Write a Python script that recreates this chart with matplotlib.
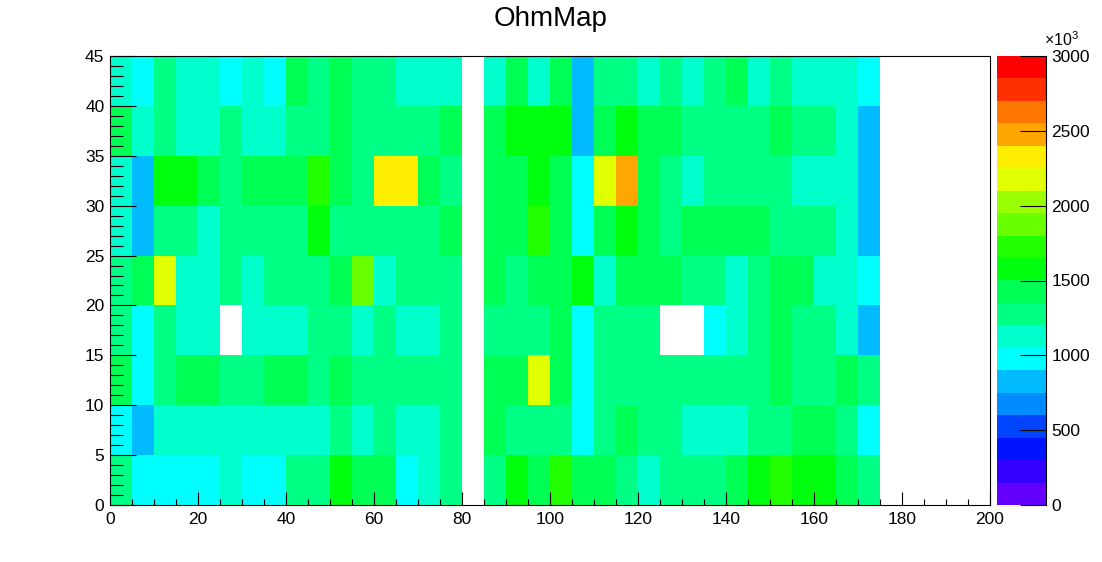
import colorsys
import numpy as np
import matplotlib
matplotlib.use('Agg')
import matplotlib.pyplot as plt
from matplotlib.colors import ListedColormap, BoundaryNorm

plt.rcParams['font.family'] = ['Liberation Sans', 'DejaVu Sans']
plt.rcParams['mathtext.default'] = 'regular'

# bin edges
x_edges = np.arange(0, 180, 5)   # 0..175, 35 bins
y_edges = np.arange(0, 50, 5)    # 0..45, 9 bins

# cell values in units of 10^3
C = 975
B = 825
A = 1125
S = 1275
G = 1425
P = 1575
L = 1725
Y1 = 1875
Y2 = 2175
Y3 = 2325
O = 2475
W = np.nan   # empty bin

row0 = [S, C, C, C, C, A, C, C, S, S, P, G, G, C, A, S, W, S, P, G, L, G, G, S, A, S, S, S, G, P, L, P, P, G, S]
row1 = [C, B, A, A, A, A, A, A, A, A, S, A, S, A, A, S, W, G, S, S, S, C, S, G, S, S, A, A, A, S, S, G, G, S, C]
row2 = [G, C, S, G, G, S, S, G, G, S, G, S, S, S, S, S, W, G, G, Y2, G, C, S, S, S, S, S, S, S, S, G, S, S, G, S]
row3 = [S, C, S, A, A, W, A, A, A, S, S, A, S, A, A, S, W, S, S, S, G, C, S, S, S, W, W, C, A, S, G, S, S, A, B]
row4 = [S, G, Y2, A, A, S, A, S, S, S, G, Y1, A, S, S, S, W, G, S, G, G, P, A, G, G, G, S, S, A, S, G, G, A, A, C]
row5 = [A, B, S, S, A, S, S, S, S, P, S, S, S, S, S, G, W, G, G, L, G, C, G, P, G, S, G, G, G, G, S, S, S, A, B]
row6 = [A, B, P, P, G, S, G, G, G, L, G, S, Y3, Y3, G, S, W, G, G, P, G, C, Y2, O, G, S, A, S, S, S, S, A, A, A, B]
row7 = [G, A, S, A, A, S, A, A, S, S, G, S, S, S, S, G, W, G, P, P, P, B, G, P, G, G, S, S, S, S, G, S, S, A, B]
row8 = [A, C, S, A, A, C, A, C, G, S, G, S, S, A, A, A, W, A, G, A, G, B, S, S, A, S, A, S, G, A, S, A, A, A, C]

z = np.array([row0, row1, row2, row3, row4, row5, row6, row7, row8], dtype=float)

# ROOT "pretty" palette, 50 colours, 20 contour levels
n_levels = 20
z_min, z_max = 0, 3000
pretty = []
for i in range(50):
    hue = 280 - (i + 1) * 280 / 50
    pretty.append(colorsys.hls_to_rgb(hue / 360.0, 0.5, 1.0))
colors = [pretty[int((k + 0.99) * 50 / n_levels)] for k in range(n_levels)]
cmap = ListedColormap(colors)
levels = np.linspace(z_min, z_max, n_levels + 1)
norm = BoundaryNorm(levels, cmap.N)

fig = plt.figure(figsize=(11.02, 5.62), dpi=100)
ax = fig.add_axes([110 / 1102, 57 / 562, 880 / 1102, 449 / 562])
mesh = ax.pcolormesh(x_edges, y_edges, np.ma.masked_invalid(z), cmap=cmap, norm=norm)
ax.set_xlim(0, 200)
ax.set_ylim(0, 45)

ax.set_xticks(range(0, 201, 20))
ax.set_xticks(range(0, 201, 5), minor=True)
ax.set_yticks(range(0, 46, 5))
ax.set_yticks(range(0, 46, 1), minor=True)
ax.tick_params(axis='both', which='both', direction='in', width=0.8, labelsize=12.5,
               top=False, right=False)
ax.tick_params(axis='x', which='major', length=9.5, pad=5)
ax.tick_params(axis='x', which='minor', length=4.5)
ax.tick_params(axis='y', which='major', length=19, pad=4)
ax.tick_params(axis='y', which='minor', length=9.5)
for sp in ax.spines.values():
    sp.set_linewidth(0.8)

fig.text(0.5, 1 - 19 / 562, 'OhmMap', ha='center', va='center', fontsize=20)

cax = fig.add_axes([997 / 1102, 57 / 562, 49 / 1102, 449 / 562])
cb = fig.colorbar(mesh, cax=cax, ticks=range(0, 3001, 500))
cb.outline.set_visible(False)
cax.axvline(1, color='k', lw=0.8, clip_on=False)
cax.minorticks_off()
cax.tick_params(axis='y', which='major', direction='in', length=19, width=0.8,
                labelsize=12.5, pad=4, right=True, left=False)
fig.text(1044 / 1102, 1 - 40 / 562, r'$\times10^{3}$', fontsize=11.5, ha='left', va='center')

fig.savefig('out.png', dpi=100)
